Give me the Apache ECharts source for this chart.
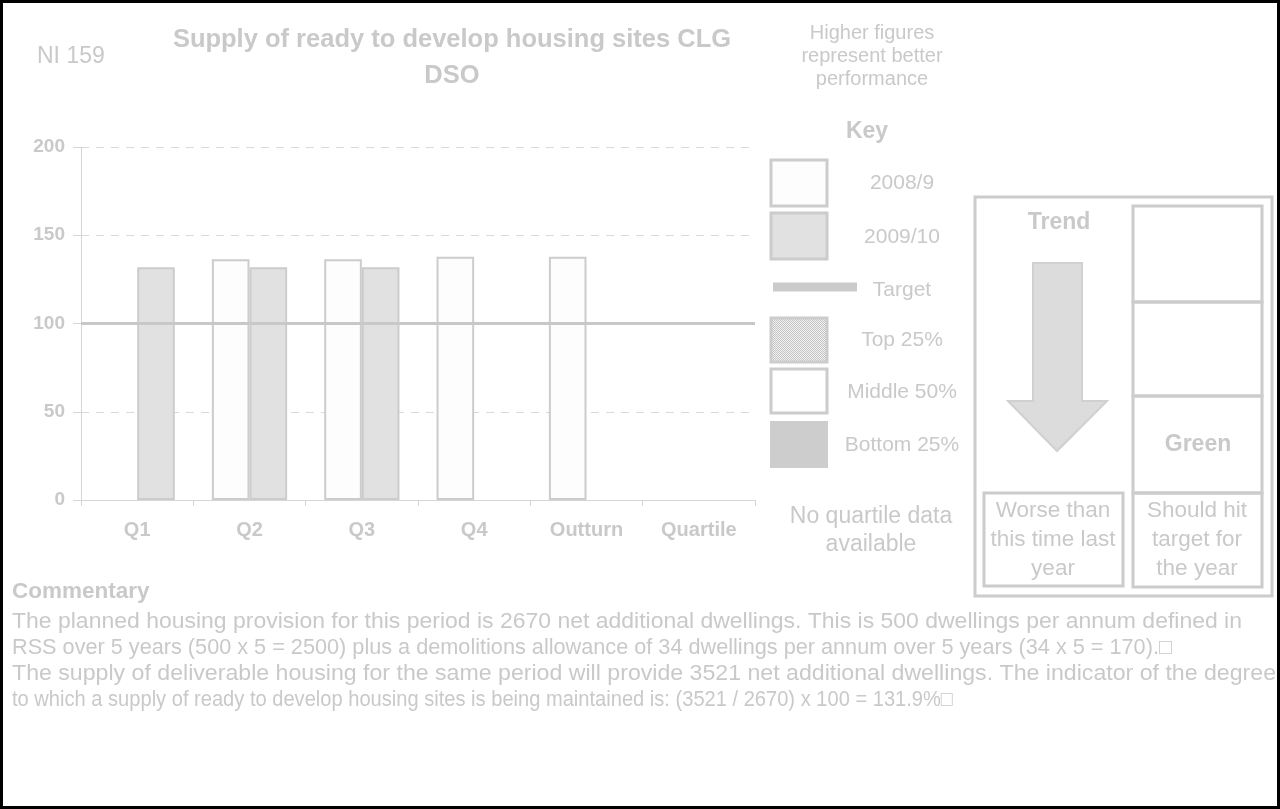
<!DOCTYPE html>
<html>
<head>
<meta charset="utf-8">
<title>NI 159 Supply of ready to develop housing sites</title>
<script src="https://cdn.jsdelivr.net/npm/echarts@6/dist/echarts.min.js"></script>
<style>
  html, body { margin: 0; padding: 0; background: #ffffff; }
  #chart { width: 1280px; height: 809px; }
</style>
</head>
<body>
<div id="chart"></div>
<script>
// Quarterly indicator values (%)
const categories = ['Q1', 'Q2', 'Q3', 'Q4', 'Outturn', 'Quartile'];
const values2008 = ['-', 136.4, 136.4, 137.8, 137.8, '-'];
const values2009 = [131.9, 131.9, 131.9, '-', '-', '-'];
const target = 100;
const yTicks = { min: 0, max: 200, interval: 50 };

const keyItems = ['2008/9', '2009/10', 'Target', 'Top 25%', 'Middle 50%', 'Bottom 25%'];
const headerLines = ['Higher figures', 'represent better', 'performance'];
const titleLines = ['Supply of ready to develop housing sites CLG', 'DSO'];
const trendLines = ['Worse than', 'this time last', 'year'];
const targetLines = ['Should hit', 'target for', 'the year'];
const commentaryLines = [
  'The planned housing provision for this period is 2670 net additional dwellings. This is 500 dwellings per annum defined in',
  'RSS over 5 years (500 x 5 = 2500) plus a demolitions allowance of 34 dwellings per annum over 5 years (34 x 5 = 170).\u25A1',
  'The supply of deliverable housing for the same period will provide 3521 net additional dwellings. The indicator of the degree',
  'to which a supply of ready to develop housing sites is being maintained is: (3521 / 2670) x 100 = 131.9%\u25A1'
];

const TXT = '#c9c9c9';
const LINE = '#cccccc';
const FONT = '"Liberation Sans", Arial, sans-serif';

// fine dotted fill used for the "Top 25%" swatch
function dotPattern() {
  const c = document.createElement('canvas');
  c.width = 2; c.height = 2;
  const g = c.getContext('2d');
  g.fillStyle = '#f2f2f2'; g.fillRect(0, 0, 2, 2);
  g.fillStyle = '#c4c4c4'; g.fillRect(0, 0, 1, 1); g.fillRect(1, 1, 1, 1);
  return { image: c, repeat: 'repeat' };
}

function txt(x, y, text, size, opts) {
  opts = opts || {};
  return {
    type: 'text', x: x, y: y, silent: true,
    scaleX: opts.scaleX || 1,
    style: {
      text: text, fill: opts.color || TXT, fontSize: size,
      fontWeight: opts.bold ? 'bold' : 'normal', fontFamily: FONT,
      align: opts.align || 'center', verticalAlign: 'middle'
    }
  };
}
function box(x, y, w, h, fill, stroke, lw) {
  return {
    type: 'rect', silent: true,
    shape: { x: x, y: y, width: w, height: h },
    style: { fill: fill || 'none', stroke: stroke || LINE, lineWidth: lw == null ? 3 : lw }
  };
}

// commentary line fitted to its measured right edge by a horizontal squeeze/stretch
const measureCtx = document.createElement('canvas').getContext('2d');
const BODY_SIZE = 22;
function fittedLine(x, y, text, right) {
  measureCtx.font = BODY_SIZE + 'px ' + FONT;
  const natural = measureCtx.measureText(text).width;
  return txt(x, y, text, BODY_SIZE, { align: 'left', scaleX: (right - x) / natural });
}

const graphics = [];
// page frame
graphics.push(box(1.5, 1.5, 1277, 806, 'none', '#000000', 3));
// headings
graphics.push(txt(37, 57, 'NI 159', 23, { align: 'left' }));
titleLines.forEach((t, i) => graphics.push(txt(452, 40 + i * 36, t, 25.5, { bold: true })));
headerLines.forEach((t, i) => graphics.push(txt(872, 33 + i * 23, t, 20)));

// key
graphics.push(txt(867, 132, 'Key', 23, { bold: true }));
const swatchY = [160, 213, null, 318, 369, 421];
const labelY = [183, 237, 290, 340, 392, 445];
graphics.push(box(771, swatchY[0], 56, 46, '#fdfdfd', LINE, 3));
graphics.push(box(771, swatchY[1], 56, 46, '#e1e1e1', LINE, 3));
graphics.push({ type: 'line', silent: true, shape: { x1: 773, y1: 287, x2: 857, y2: 287 }, style: { stroke: '#cbcbcb', lineWidth: 9 } });
graphics.push(box(771, swatchY[3], 56, 44, dotPattern(), LINE, 3));
graphics.push(box(771, swatchY[4], 56, 44, '#ffffff', LINE, 3));
graphics.push(box(770, swatchY[5], 58, 47, '#cdcdcd', 'none', 0));
keyItems.forEach((t, i) => graphics.push(txt(902, labelY[i], t, 21)));
graphics.push(txt(871, 517, 'No quartile data', 23));
graphics.push(txt(871, 545, 'available', 23));

// trend panel
graphics.push(box(975, 197, 297, 399, 'none', LINE, 3));
graphics.push(txt(1059, 223, 'Trend', 23, { bold: true }));
graphics.push({
  type: 'polygon', silent: true,
  shape: { points: [[1033, 263], [1082, 263], [1082, 401], [1107, 401], [1057, 451], [1008, 401], [1033, 401]] },
  style: { fill: '#dcdcdc', stroke: '#d0d0d0', lineWidth: 2 }
});
graphics.push(box(1133, 206, 129, 96, 'none', LINE, 3));
graphics.push(box(1133, 302, 129, 94, 'none', LINE, 3));
graphics.push(box(1133, 396, 129, 97, 'none', LINE, 3));
graphics.push(txt(1198, 445, 'Green', 23, { bold: true }));
graphics.push(box(984, 493, 139, 93, 'none', LINE, 3));
graphics.push(box(1133, 493, 129, 94, 'none', LINE, 3));
trendLines.forEach((t, i) => graphics.push(txt(1053, 511 + i * 29, t, 22.5)));
targetLines.forEach((t, i) => graphics.push(txt(1197, 511 + i * 29, t, 22.5)));

// commentary
graphics.push(txt(12, 592, 'Commentary', 22.5, { bold: true, align: 'left' }));
const lineRight = [1242, 1172, 1276, 953];
commentaryLines.forEach((t, i) => graphics.push(fittedLine(12, 622 + i * 26, t, lineRight[i])));

const chart = echarts.init(document.getElementById('chart'), null, { renderer: 'canvas' });
chart.setOption({
  animation: false,
  backgroundColor: '#ffffff',
  grid: { left: 81, top: 147, width: 674, height: 353 },
  xAxis: {
    type: 'category', data: categories,
    axisLine: { lineStyle: { color: '#d6d6d6', width: 1 } },
    axisTick: { show: true, length: 6, lineStyle: { color: '#d6d6d6' } },
    axisLabel: { color: TXT, fontSize: 20, fontWeight: 'bold', fontFamily: FONT, margin: 20 }
  },
  yAxis: {
    type: 'value', min: yTicks.min, max: yTicks.max, interval: yTicks.interval,
    axisLine: { show: true, lineStyle: { color: '#d6d6d6', width: 1 } },
    axisTick: { show: true, length: 8, lineStyle: { color: '#d6d6d6' } },
    splitLine: { show: true, lineStyle: { color: '#d9d9d9', type: [8, 7], width: 1 } },
    axisLabel: { color: TXT, fontSize: 19, fontWeight: 'bold', fontFamily: FONT, margin: 16 }
  },
  series: [
    {
      name: '2008/9', type: 'bar', data: values2008,
      barGap: '0%', barCategoryGap: '33%',
      itemStyle: { color: '#fdfdfd', borderColor: LINE, borderWidth: 2 },
      markLine: {
        silent: true, symbol: ['none', 'none'], label: { show: false },
        lineStyle: { color: '#c8c8c8', width: 3, type: 'solid' },
        data: [{ yAxis: target }]
      }
    },
    {
      name: '2009/10', type: 'bar', data: values2009,
      itemStyle: { color: '#e1e1e1', borderColor: LINE, borderWidth: 2 }
    }
  ],
  graphic: graphics
});
</script>
</body>
</html>
